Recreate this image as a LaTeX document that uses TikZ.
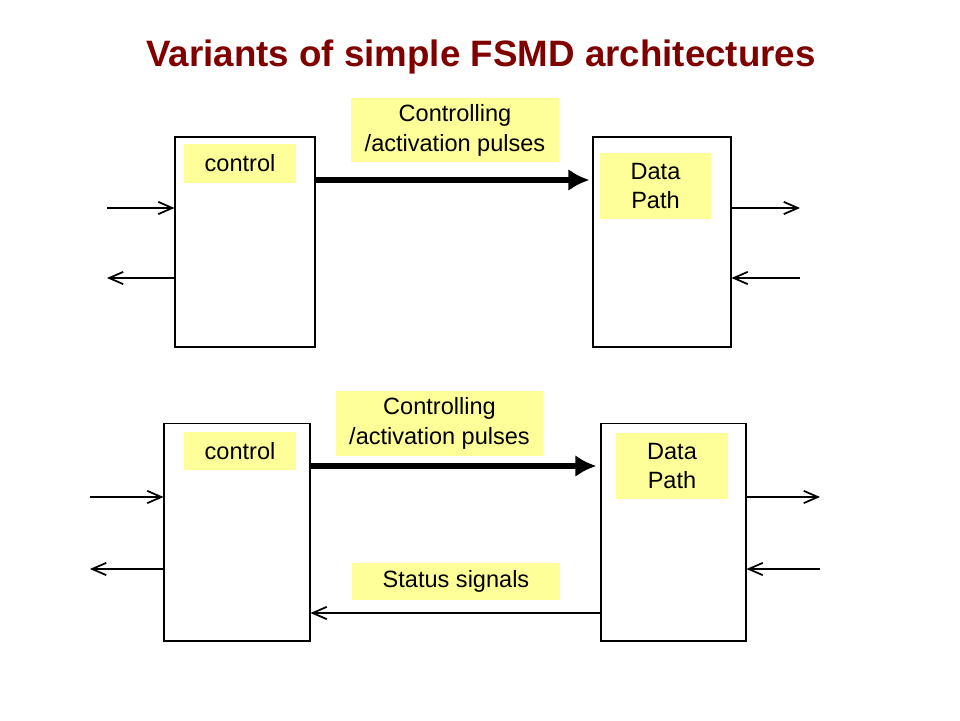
\documentclass[tikz,border=0pt]{standalone}
\usepackage{fontspec}
\setmainfont{Liberation Sans}
\usepackage{xcolor}
\usetikzlibrary{arrows.meta}
\definecolor{titlered}{RGB}{128,0,0}
\definecolor{noteyellow}{RGB}{255,255,153}
\tikzset{
	unitbox/.style={
		rectangle,
		draw,
		line width=0.6pt,
		inner sep=0pt
	},
	tagbox/.style={
		rectangle,
		fill=noteyellow,
		align=center,
		inner sep=0pt,
		font=\fontsize{13.4pt}{17pt}\selectfont
	},
	wire/.style={
		line width=0.7pt,
		-{Straight Barb[length=8pt,width=7pt,line width=1pt]}
	},
	bus/.style={
		line width=3.6pt,
		-{Latex[length=12pt,width=12.5pt]}
	}
}

\begin{document}
\begin{tikzpicture}[x=0.02cm,y=-0.02cm]
		\useasboundingbox (0,0) rectangle (960,720);
		\draw node[text=titlered, font=\fontsize{20.9pt}{25pt}\selectfont\bfseries](Title) at (481,57){Variants of simple FSMD architectures};
		
		% first variant: control drives data path only
		\draw node[unitbox, minimum width=2.8cm, minimum height=4.2cm](Control) at (245,242){};
		\draw node[unitbox, minimum width=2.76cm, minimum height=4.2cm](DataPath) at (662,242){};
		\draw node[tagbox, minimum width=2.24cm, minimum height=0.78cm](ControlTag) at (240,163.5){control};
		\draw node[tagbox, minimum width=4.16cm, minimum height=1.3cm](PulsesTag) at (455,130){Controlling\\ /activation pulses};
		\draw node[tagbox, minimum width=2.22cm, minimum height=1.32cm](DataTag) at (655.5,186){Data\\ Path};
		
		\coordinate (InA) at (107,208);
		\coordinate (OutA) at (107,278);
		\coordinate (DOutA) at (800,208);
		\coordinate (DInA) at (800,278);
		\coordinate (BusA) at (315,180);
		
		\draw [bus] (BusA -| Control.east) -- ([xshift=-1.7pt]BusA -| DataPath.west);
		\draw [wire] (InA) -- (InA -| Control.west);
		\draw [wire] (OutA -| Control.west) -- (OutA);
		\draw [wire] (DOutA -| DataPath.east) -- (DOutA);
		\draw [wire] (DInA) -- (DInA -| DataPath.east);
		
		% second variant: with status signals back to control
		\draw node[unitbox, minimum width=2.92cm, minimum height=4.36cm](ControlB) at (237,532){};
		\draw node[unitbox, minimum width=2.9cm, minimum height=4.36cm](DataPathB) at (673.5,532){};
		\draw node[tagbox, minimum width=2.24cm, minimum height=0.76cm](ControlBTag) at (240,451){control};
		\draw node[tagbox, minimum width=4.14cm, minimum height=1.32cm](PulsesBTag) at (439.5,423.5){Controlling\\ /activation pulses};
		\draw node[tagbox, minimum width=2.24cm, minimum height=1.32cm](DataBTag) at (672,466){Data\\ Path};
		\draw node[tagbox, minimum width=4.16cm, minimum height=0.74cm](StatusTag) at (456,581.5){Status signals};
		
		\coordinate (InB) at (90,497);
		\coordinate (OutB) at (90,569);
		\coordinate (DOutB) at (820,497);
		\coordinate (DInB) at (820,569);
		\coordinate (BusB) at (310,466);
		\coordinate (StatusB) at (310,613);
		
		\draw [bus] (BusB -| ControlB.east) -- ([xshift=-2.3pt]BusB -| DataPathB.west);
		\draw [wire] (StatusB -| DataPathB.west) -- (StatusB -| ControlB.east);
		\draw [wire] (InB) -- (InB -| ControlB.west);
		\draw [wire] (OutB -| ControlB.west) -- (OutB);
		\draw [wire] (DOutB -| DataPathB.east) -- (DOutB);
		\draw [wire] (DInB) -- (DInB -| DataPathB.east);
	\end{tikzpicture}
\end{document}
